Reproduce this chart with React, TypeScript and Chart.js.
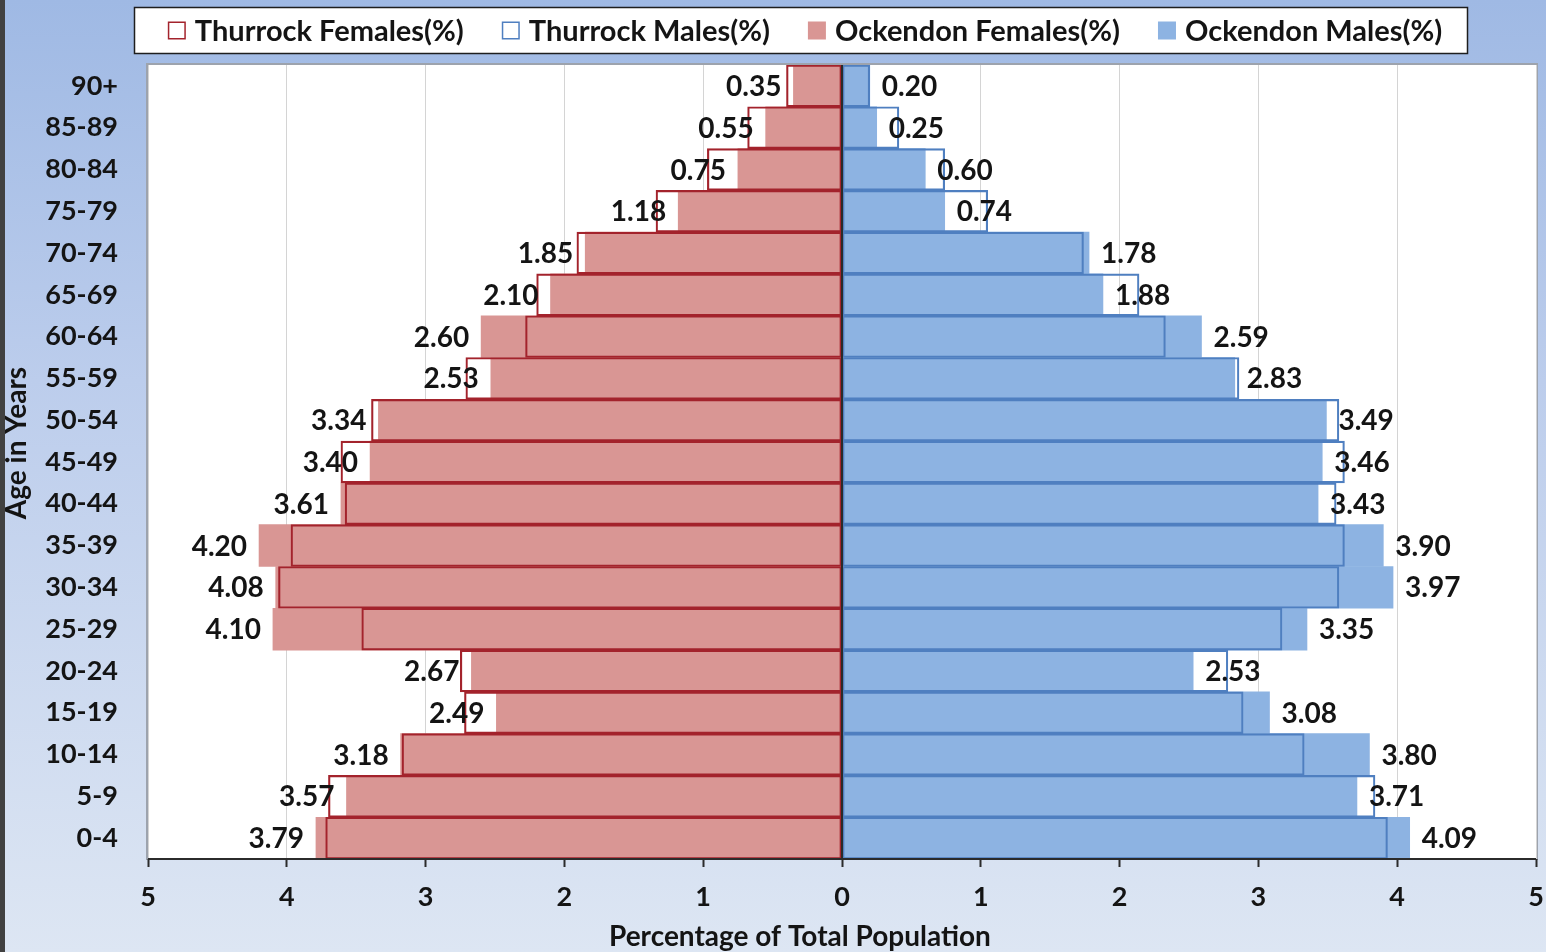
import React, { useEffect, useRef } from 'react';
import { Chart, registerables } from 'chart.js';

Chart.register(...registerables);

const ageGroups = ['90+', '85-89', '80-84', '75-79', '70-74', '65-69', '60-64', '55-59', '50-54', '45-49', '40-44', '35-39', '30-34', '25-29', '20-24', '15-19', '10-14', '5-9', '0-4'];
const ockendonFemales = [0.35, 0.55, 0.75, 1.18, 1.85, 2.10, 2.60, 2.53, 3.34, 3.40, 3.61, 4.20, 4.08, 4.10, 2.67, 2.49, 3.18, 3.57, 3.79];
const ockendonMales = [0.20, 0.25, 0.60, 0.74, 1.78, 1.88, 2.59, 2.83, 3.49, 3.46, 3.43, 3.90, 3.97, 3.35, 2.53, 3.08, 3.80, 3.71, 4.09];
const thurrockFemales = [0.40, 0.68, 0.97, 1.34, 1.91, 2.20, 2.28, 2.71, 3.39, 3.61, 3.58, 3.97, 4.06, 3.46, 2.75, 2.72, 3.17, 3.70, 3.72];
const thurrockMales = [0.20, 0.41, 0.74, 1.05, 1.74, 2.14, 2.33, 2.86, 3.58, 3.62, 3.56, 3.62, 3.58, 3.17, 2.78, 2.89, 3.33, 3.84, 3.93];
const xTicks = [-5, -4, -3, -2, -1, 0, 1, 2, 3, 4, 5];

const FONT = 'Lato, "Open Sans", sans-serif';
const TEXT = '#141414';
const RED_LINE = '#a3232c';
const BLUE_LINE = '#4f7fc0';
const PINK = '#d99694';
const BLUE = '#8db3e2';

const legendItems = [
  { text: 'Thurrock Females(%)', fill: '#ffffff', stroke: RED_LINE },
  { text: 'Thurrock Males(%)', fill: '#ffffff', stroke: BLUE_LINE },
  { text: 'Ockendon Females(%)', fill: PINK, stroke: null },
  { text: 'Ockendon Males(%)', fill: BLUE, stroke: null },
];

const decorPlugin = {
  id: 'decor',
  beforeDraw(chart: any) {
    const { ctx, chartArea } = chart;
    ctx.save();
    ctx.fillStyle = '#ffffff';
    ctx.fillRect(chartArea.left, chartArea.top, chartArea.right - chartArea.left, chartArea.bottom - chartArea.top);
    ctx.strokeStyle = '#9da3ad';
    ctx.lineWidth = 2;
    ctx.strokeRect(chartArea.left - 1, chartArea.top - 1, chartArea.right - chartArea.left + 2, chartArea.bottom - chartArea.top + 1);
    ctx.restore();
  },
  afterDatasetsDraw(chart: any) {
    const { ctx, chartArea, scales } = chart;
    ctx.save();
    const x0 = scales.x.getPixelForValue(0);
    ctx.strokeStyle = '#2b2b2b';
    ctx.lineWidth = 2;
    ctx.beginPath();
    ctx.moveTo(x0, chartArea.top);
    ctx.lineTo(x0, chartArea.bottom);
    ctx.stroke();
    ctx.beginPath();
    ctx.moveTo(chartArea.left, chartArea.bottom);
    ctx.lineTo(chartArea.right, chartArea.bottom);
    ctx.stroke();

    ctx.font = `bold 28px ${FONT}`;
    ctx.fillStyle = TEXT;
    ctx.textBaseline = 'middle';
    const fMeta = chart.getDatasetMeta(2);
    fMeta.data.forEach((bar: any, i: number) => {
      ctx.textAlign = 'right';
      ctx.fillText(ockendonFemales[i].toFixed(2), bar.x - 12, bar.y + 1);
    });
    const mMeta = chart.getDatasetMeta(3);
    mMeta.data.forEach((bar: any, i: number) => {
      ctx.textAlign = 'left';
      ctx.fillText(ockendonMales[i].toFixed(2), bar.x + 12, bar.y + 1);
    });
    ctx.restore();
  },
  afterDraw(chart: any) {
    const { ctx, chartArea } = chart;
    ctx.save();
    const fx = 134.5, fy = 7.5, fw = 1333, fh = 46;
    ctx.fillStyle = '#ffffff';
    ctx.fillRect(fx, fy, fw, fh);
    ctx.strokeStyle = '#1e1e1e';
    ctx.lineWidth = 1.5;
    ctx.strokeRect(fx, fy, fw, fh);
    ctx.font = `bold 29px ${FONT}`;
    ctx.textBaseline = 'middle';
    ctx.textAlign = 'left';
    const box = 18, gapBox = 9, gapItem = 38;
    const widths = legendItems.map((it) => ctx.measureText(it.text).width);
    const total = widths.reduce((a, w) => a + box + gapBox + w, 0) + gapItem * (legendItems.length - 1);
    let x = 805 - total / 2;
    const cy = fy + fh / 2;
    legendItems.forEach((it, i) => {
      ctx.fillStyle = it.fill;
      ctx.fillRect(x, cy - box / 2, box, box);
      if (it.stroke) {
        ctx.strokeStyle = it.stroke;
        ctx.lineWidth = 1.5;
        ctx.strokeRect(x + 0.75, cy - box / 2 + 0.75, box - 1.5, box - 1.5);
      }
      ctx.fillStyle = TEXT;
      ctx.fillText(it.text, x + box + gapBox, cy + 1);
      x += box + gapBox + widths[i] + gapItem;
    });

    ctx.font = `bold 28px ${FONT}`;
    ctx.textAlign = 'center';
    ctx.fillStyle = TEXT;
    ctx.fillText('Percentage of Total Population', chartArea.left + (chartArea.right - chartArea.left) * 0.4697, 937);
    ctx.translate(17, 443);
    ctx.rotate(-Math.PI / 2);
    ctx.fillText('Age in Years', 0, 0);
    ctx.restore();
  },
};

export default function App() {
  const canvasRef = useRef<HTMLCanvasElement | null>(null);

  useEffect(() => {
    let chart: Chart | null = null;
    let cancelled = false;
    const make = () => {
      if (cancelled || !canvasRef.current) return;
      chart = new Chart(canvasRef.current, {
        type: 'bar',
        data: {
          labels: ageGroups,
          datasets: [
            {
              label: 'Thurrock Females(%)',
              data: thurrockFemales.map((v) => -v),
              backgroundColor: 'rgba(0,0,0,0)',
              borderColor: RED_LINE,
              borderWidth: 1.5,
              borderSkipped: false,
            },
            {
              label: 'Thurrock Males(%)',
              data: thurrockMales,
              backgroundColor: 'rgba(0,0,0,0)',
              borderColor: BLUE_LINE,
              borderWidth: 1.5,
              borderSkipped: false,
            },
            {
              label: 'Ockendon Females(%)',
              data: ockendonFemales.map((v) => -v),
              backgroundColor: PINK,
              borderWidth: 0,
            },
            {
              label: 'Ockendon Males(%)',
              data: ockendonMales,
              backgroundColor: BLUE,
              borderWidth: 0,
            },
          ],
        },
        options: {
          indexAxis: 'y',
          animation: false,
          responsive: false,
          devicePixelRatio: 1,
          layout: { padding: { top: 65, right: 10, left: 0, bottom: 0 } },
          datasets: {
            bar: { grouped: false, barPercentage: 1, categoryPercentage: 1 },
          },
          plugins: {
            legend: { display: false },
            tooltip: { enabled: false },
            title: { display: false },
          },
          scales: {
            x: {
              type: 'linear',
              min: -5,
              max: 5,
              afterBuildTicks: (scale: any) => {
                scale.ticks = xTicks.map((v) => ({ value: v }));
              },
              afterFit: (scale: any) => {
                scale.height = 93;
                scale.paddingLeft = 0;
                scale.paddingRight = 0;
              },
              ticks: {
                callback: (v: any) => String(Math.abs(Number(v))),
                font: { family: FONT, size: 27, weight: 'bold' },
                color: TEXT,
                padding: 14,
                maxRotation: 0,
              },
              grid: {
                color: (c: any) => (c.tick && c.tick.value === 0 ? '#2b2b2b' : '#d4d4d4'),
                lineWidth: 1,
                tickColor: '#2b2b2b',
                tickLength: 8,
                tickWidth: 2,
              },
              border: { display: false },
            },
            y: {
              type: 'category',
              afterFit: (scale: any) => {
                scale.width = 148;
                scale.paddingTop = 0;
                scale.paddingBottom = 0;
              },
              ticks: {
                font: { family: FONT, size: 27, weight: 'bold' },
                color: TEXT,
                padding: 30,
              },
              grid: { display: false, drawTicks: false },
              border: { display: false },
            },
          },
        },
        plugins: [decorPlugin],
      } as any);
    };
    const fonts: any = (document as any).fonts;
    if (fonts && fonts.load) {
      fonts.load(`bold 28px Lato`).then(make, make);
    } else {
      make();
    }
    return () => {
      cancelled = true;
      if (chart) chart.destroy();
    };
  }, []);

  return (
    <div
      style={{
        position: 'fixed',
        left: 0,
        top: 0,
        width: 1546,
        height: 952,
        background: 'linear-gradient(to right, #414141 0px, #414141 5px, transparent 5px), linear-gradient(to bottom, #9fb9e4 0%, #bccdec 40%, #dde6f3 100%)',
      }}
    >
      <canvas ref={canvasRef} width={1546} height={952} style={{ display: 'block', width: 1546, height: 952 }} />
    </div>
  );
}
